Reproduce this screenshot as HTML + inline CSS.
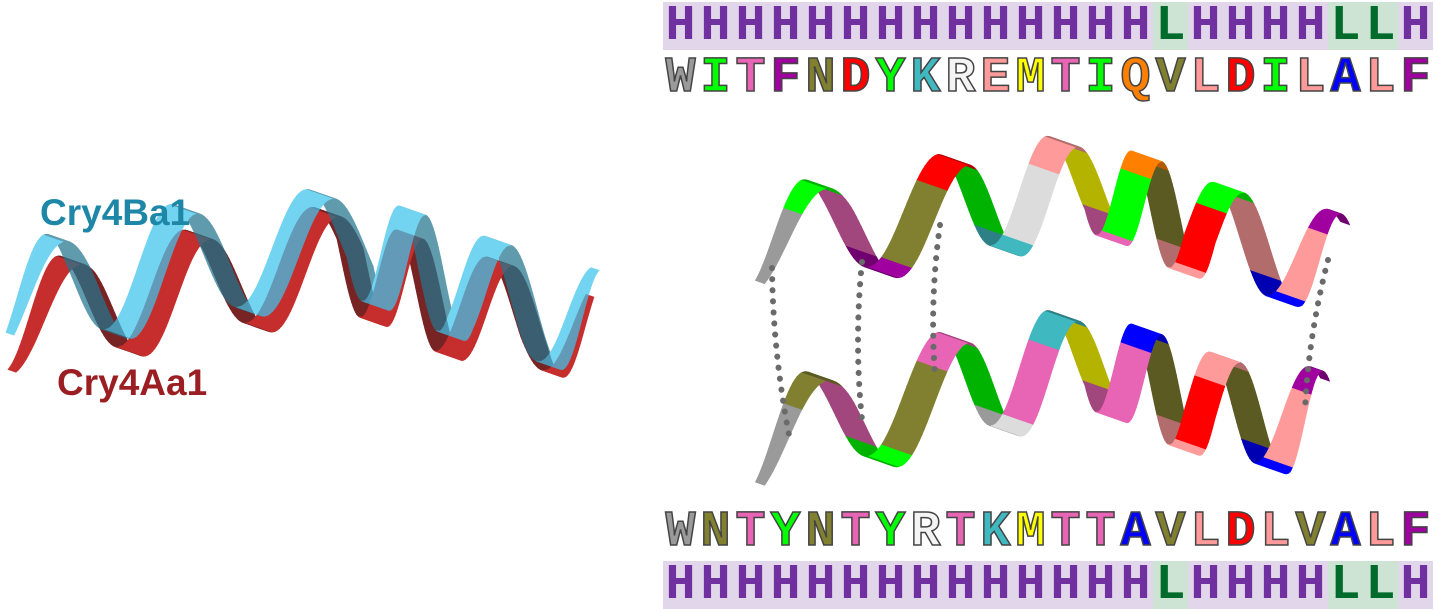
<!DOCTYPE html>
<html><head><meta charset="utf-8"><style>
html,body{margin:0;padding:0;background:#fff;}
#wrap{position:relative;width:1435px;height:612px;overflow:hidden;font-family:"Liberation Sans",sans-serif;}
.band{position:absolute;left:663px;width:770px;height:48px;background:#e2d6eb;display:flex;}
.band span,.seq span{width:35px;text-align:center;font-family:"Liberation Mono",monospace;font-weight:bold;font-size:50px;}
.band span{color:#7030a0;line-height:50px;}
.band span.L{background:#cde3d3;color:#006b2a;}
.seq{position:absolute;left:663px;width:770px;height:44px;display:flex;}
.seq span{line-height:46px;-webkit-text-stroke:1.5px #444;}
.lbl{position:absolute;font-weight:bold;font-size:37px;}
</style></head><body>
<div id="wrap">
<svg id="svg" width="1435" height="612" style="position:absolute;left:0;top:0"></svg>
<div class="lbl" style="left:40px;top:192px;color:#1e87a8">Cry4Ba1</div>
<div class="lbl" style="left:57px;top:362px;color:#9b1f22">Cry4Aa1</div>
<div class="band" style="top:2px" id="ssTop"></div>
<div class="seq" style="top:56px" id="seqTop"></div>
<div class="seq" style="top:510px" id="seqBot"></div>
<div class="band" style="top:561px" id="ssBot"></div>
</div>
<script>
const ss = "HHHHHHHHHHHHHHLHHHHLLH".split("");
const seqA = "WITFNDYKREMTIQVLDILALF".split("");
const seqB = "WNTYNTYRTKMTTAVLDLVALF".split("");
const colorMap = {W:"#9a9a9a",I:"#00ff00",T:"#e864b4",F:"#a000a0",N:"#808030",D:"#ff0000",Y:"#00ff00",K:"#40b8c0",R:"#f4f4f4",E:"#ff9a9a",M:"#ffff00",Q:"#ff8000",V:"#808030",L:"#ff9a9a",A:"#0000ff"};
function fill(id, arr, isSS){
  const el=document.getElementById(id);
  arr.forEach((c,i)=>{
    const s=document.createElement('span');
    s.textContent=c;
    if(isSS){ if(c==='L') s.className='L'; }
    else s.style.color=colorMap[c];
    
    
    el.appendChild(s);
  });
}
fill('ssTop',ss,true);fill('seqTop',seqA,false);fill('seqBot',seqB,false);fill('ssBot',ss,true);

const svg=document.getElementById('svg');
const NS="http://www.w3.org/2000/svg";
function interp(pts,s){
  const n=pts.length-1, f=s*n, i=Math.min(n-1,Math.floor(f)), t=f-i;
  return [pts[i][0]+(pts[i+1][0]-pts[i][0])*t, pts[i][1]+(pts[i+1][1]-pts[i][1])*t];
}
function shade(hex,f){
  const v=parseInt(hex.slice(1),16);let r=v>>16,g=(v>>8)&255,b=v&255;
  r=Math.round(r*f);g=Math.round(g*f);b=Math.round(b*f);
  return `rgb(${r},${g},${b})`;
}
function helix(pts,turns,amp,wid,colorFn,opacity,phase,name){
  const g=document.createElementNS(NS,'g');
  
  
  g.setAttribute('opacity',opacity);
  const N=300;const back=[],front=[];
  let prev=null;
  for(let k=0;k<=N;k++){
    const s=k/N, th=2*Math.PI*turns*s+phase;
    const c=interp(pts,s);
    const taper=Math.min(1,s*10,(1-s)*10);
    const w=wid*(0.3+0.7*taper);
    const p=[c[0], c[1]+amp*Math.cos(th)], z=Math.sin(th);
    if(prev){
      const d=`M${prev.p[0]-prev.w/2},${prev.p[1]} L${p[0]-w/2},${p[1]} L${p[0]+w/2},${p[1]+w*0.35} L${prev.p[0]+prev.w/2},${prev.p[1]+prev.w*0.35}Z`;
      (z<0?back:front).push([d,colorFn(s,z)]);
    }
    prev={p,w};
  }
  back.concat(front).forEach(([d,col])=>{
    const q=document.createElementNS(NS,'path');
    q.setAttribute('d',d);q.setAttribute('fill',col);q.setAttribute('stroke',col);q.setAttribute('stroke-width','0.8');
    g.appendChild(q);
  });
  svg.appendChild(g);
}
// left helices
helix([[12,320],[180,285],[350,255],[450,300],[590,325]],5.3,52,26,(s,z)=>shade("#c01818",z>0?1:0.55),0.9,Math.PI*0.1,'cry4aa1-helix');
helix([[10,300],[180,260],[360,240],[460,280],[595,320]],5.3,55,26,(s,z)=>shade("#3cc4ec",z>0?1:0.6),0.72,Math.PI*0.3,'cry4ba1-helix');
// right helices
function resColor(seq){return (s,z)=>{const c=colorMap[seq[Math.min(seq.length-1,Math.floor(s*seq.length))]];return shade(c,(z>0?1:0.7)*(c==="#f4f4f4"?0.9:1));};}
helix([[760,240],[950,205],[1100,180],[1200,225],[1345,262]],5.5,50,30,resColor(seqA),1,Math.PI*0.2,'top-helix');
helix([[760,440],[950,385],[1100,355],[1200,400],[1325,420]],5.5,52,30,resColor(seqB),1,Math.PI*0.2,'bottom-helix');
// dotted contacts
const links=[[772,268,790,440],[862,262,862,420],[940,225,935,375],[1328,260,1305,410]];
links.forEach(d=>{
  const p=document.createElementNS(NS,'path');
  const mx=(d[0]+d[2])/2-8;
  p.setAttribute('d',`M${d[0]},${d[1]} Q${mx},${(d[1]+d[3])/2} ${d[2]},${d[3]}`);
  p.setAttribute('stroke','#6a6a6a');p.setAttribute('stroke-width','6');
  p.setAttribute('stroke-dasharray','0.1 11');p.setAttribute('stroke-linecap','round');
  p.setAttribute('fill','none');
  
  
  svg.appendChild(p);
});
</script>
</body></html>
